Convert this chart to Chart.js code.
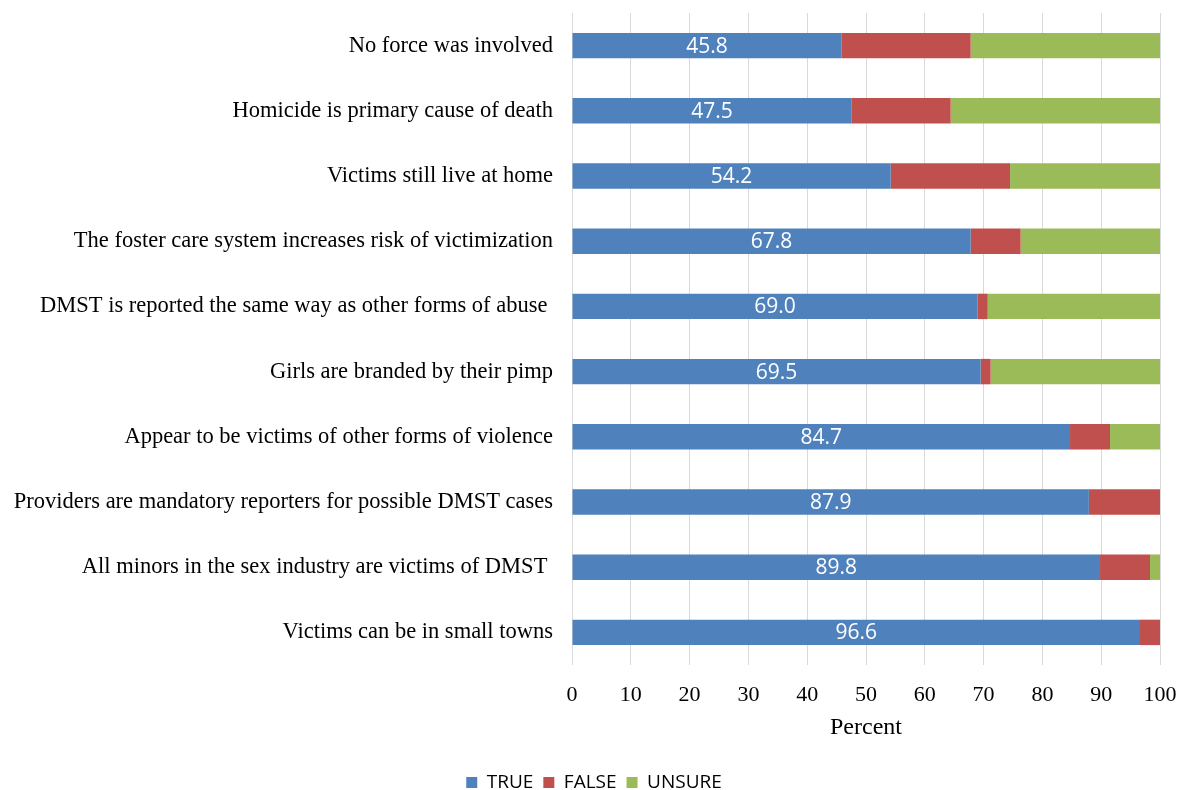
<!DOCTYPE html>
<html lang="en">
<head>
    <meta charset="UTF-8">
    <title>DMST knowledge</title>
    <script src="https://cdn.jsdelivr.net/npm/chart.js"></script>
    <style>
        body { margin: 0; background: #fff; }
        #wrap { width: 1180px; height: 790px; }
    </style>
</head>
<body>
    <div id="wrap"><canvas id="chart" width="1180" height="790"></canvas></div>
    <script>
        const statements = [
            'No force was involved',
            'Homicide is primary cause of death',
            'Victims still live at home',
            'The foster care system increases risk of victimization',
            'DMST is reported the same way as other forms of abuse ',
            'Girls are branded by their pimp',
            'Appear to be victims of other forms of violence',
            'Providers are mandatory reporters for possible DMST cases',
            'All minors in the sex industry are victims of DMST ',
            'Victims can be in small towns'
        ];
        const trueVals = [45.8, 47.5, 54.2, 67.8, 69.0, 69.5, 84.7, 87.9, 89.8, 96.6];
        const falseVals = [22.0, 16.9, 20.3, 8.5, 1.7, 1.7, 6.8, 12.1, 8.5, 3.4];
        const unsureVals = [32.2, 35.6, 25.5, 23.7, 29.3, 28.8, 8.5, 0, 1.7, 0];

        // white value labels on the TRUE segments
        const barLabels = {
            id: 'barLabels',
            afterDatasetsDraw(chart) {
                const ctx = chart.ctx;
                const meta = chart.getDatasetMeta(0);
                ctx.save();
                ctx.fillStyle = '#fff';
                ctx.font = '21px "Open Sans"';
                ctx.textAlign = 'center';
                ctx.textBaseline = 'middle';
                meta.data.forEach((bar, i) => {
                    const p = bar.getProps(['x', 'y', 'base'], true);
                    ctx.fillText(trueVals[i].toFixed(1), (p.x + p.base) / 2, p.y + 1);
                });
                ctx.restore();
            }
        };

        // nudge the legend down and a little to the right
        const legendShift = {
            id: 'legendShift',
            afterLayout(chart) {
                const lg = chart.legend;
                lg.top += 12;
                lg.bottom += 12;
                lg.left += 14;
                lg.right += 14;
            }
        };

        new Chart(document.getElementById('chart'), {
            type: 'bar',
            data: {
                labels: statements,
                datasets: [
                    { label: 'TRUE', data: trueVals, backgroundColor: '#4F81BD' },
                    { label: 'FALSE', data: falseVals, backgroundColor: '#C0504D' },
                    { label: 'UNSURE', data: unsureVals, backgroundColor: '#9BBB59' }
                ]
            },
            options: {
                indexAxis: 'y',
                responsive: false,
                animation: false,
                datasets: { bar: { barPercentage: 0.39, categoryPercentage: 1 } },
                layout: { padding: { top: 13, right: 20, left: 0, bottom: 0 } },
                scales: {
                    x: {
                        stacked: true,
                        min: 0,
                        max: 100,
                        afterFit(scale) {
                            scale.height = 86;
                            scale.paddingLeft = 0;
                            scale.paddingRight = 0;
                        },
                        ticks: { stepSize: 10, color: '#000', padding: 17, font: { family: 'Liberation Serif', size: 22 } },
                        grid: { color: '#d9d9d9', drawTicks: false },
                        border: { display: false },
                        title: { display: true, text: 'Percent', color: '#000', font: { family: 'Liberation Serif', size: 24 }, padding: { top: 0, bottom: 9 } }
                    },
                    y: {
                        stacked: true,
                        afterFit(scale) {
                            scale.width = 572;
                            scale.paddingTop = 0;
                            scale.paddingBottom = 0;
                        },
                        ticks: { color: '#000', padding: 19, font: { family: 'Liberation Serif', size: 22.5 } },
                        grid: { display: false, drawTicks: false },
                        border: { display: false }
                    }
                },
                plugins: {
                    legend: {
                        position: 'bottom',
                        labels: { boxWidth: 11, boxHeight: 11, padding: 10, color: '#000', font: { family: 'Open Sans', size: 19 } }
                    },
                    tooltip: { enabled: false }
                }
            },
            plugins: [barLabels, legendShift]
        });
    </script>
</body>
</html>
